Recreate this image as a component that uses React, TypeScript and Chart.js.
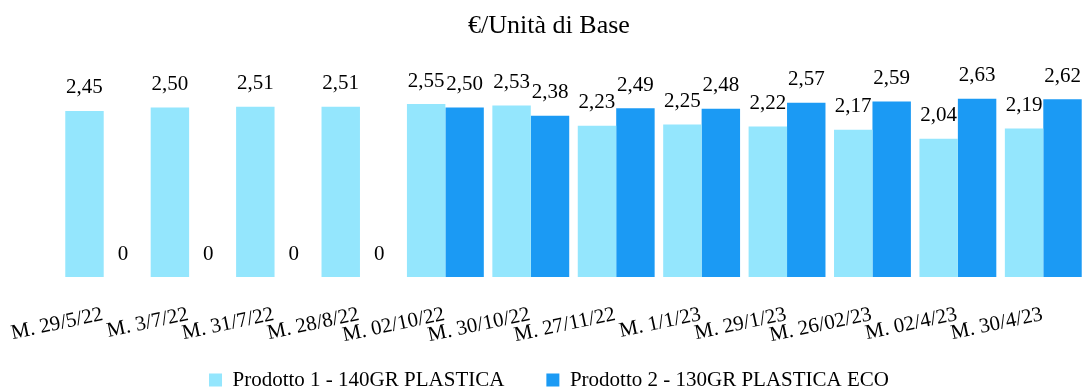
import React, { useEffect, useRef } from "react";
import { Chart, registerables } from "chart.js";

Chart.register(...registerables);

// Weekly reference dates
const categories = [
  "M. 29/5/22",
  "M. 3/7/22",
  "M. 31/7/22",
  "M. 28/8/22",
  "M. 02/10/22",
  "M. 30/10/22",
  "M. 27/11/22",
  "M. 1/1/23",
  "M. 29/1/23",
  "M. 26/02/23",
  "M. 02/4/23",
  "M. 30/4/23",
];

// Price per base unit (€)
const prodotto1 = [2.45, 2.5, 2.51, 2.51, 2.55, 2.53, 2.23, 2.25, 2.22, 2.17, 2.04, 2.19];
const prodotto2 = [0, 0, 0, 0, 2.5, 2.38, 2.49, 2.48, 2.57, 2.59, 2.63, 2.62];

const seriesNames = ["Prodotto 1 - 140GR PLASTICA", "Prodotto 2 - 130GR PLASTICA ECO"];
const seriesColors = ["#94E6FD", "#1B9AF4"];
const chartTitle = "€/Unità di Base";

const FONT = "'Liberation Serif', 'Times New Roman', serif";

const formatValue = (v: number) => (v === 0 ? "0" : v.toFixed(2).replace(".", ","));

// Draws each bar's value above it
const valueLabels = {
  id: "valueLabels",
  afterDatasetsDraw(chart: any) {
    const ctx = chart.ctx;
    ctx.save();
    ctx.font = `21px ${FONT}`;
    ctx.fillStyle = "#000";
    ctx.textAlign = "center";
    ctx.textBaseline = "alphabetic";
    chart.data.datasets.forEach((ds: any, i: number) => {
      const meta = chart.getDatasetMeta(i);
      meta.data.forEach((bar: any, j: number) => {
        ctx.fillText(formatValue(ds.data[j]), bar.x, bar.y - 17.5);
      });
    });
    ctx.restore();
  },
};

export default function App() {
  const canvasRef = useRef<HTMLCanvasElement | null>(null);

  useEffect(() => {
    if (!canvasRef.current) return;
    const chart = new Chart(canvasRef.current, {
      type: "bar",
      data: {
        labels: categories,
        datasets: [
          {
            label: seriesNames[0],
            data: prodotto1,
            backgroundColor: seriesColors[0],
            categoryPercentage: 0.9,
            barPercentage: 1,
          },
          {
            label: seriesNames[1],
            data: prodotto2,
            backgroundColor: seriesColors[1],
            categoryPercentage: 0.9,
            barPercentage: 1,
          },
        ],
      },
      options: {
        responsive: true,
        maintainAspectRatio: false,
        animation: false,
        layout: { padding: { left: 12, right: 1, top: 0, bottom: -11.5 } },
        plugins: {
          title: {
            display: true,
            text: chartTitle,
            color: "#000",
            font: { family: FONT, size: 26, weight: "normal" },
            padding: { top: 11, bottom: 8 },
          },
          legend: {
            position: "bottom",
            labels: {
              color: "#000",
              font: { family: FONT, size: 21 },
              boxWidth: 13,
              boxHeight: 13,
              padding: 42,
            },
          },
          tooltip: { enabled: false },
        },
        scales: {
          x: {
            grid: { display: false },
            border: { display: false },
            ticks: {
              color: "#000",
              font: { family: FONT, size: 21 },
              minRotation: 12,
              maxRotation: 12,
              padding: 17,
              labelOffset: -1,
              autoSkip: false,
            },
            afterFit: (s: any) => {
              // fixed band for the slanted date labels; the plot spans the full width
              s.height = 50.5;
              s.paddingLeft = 0;
              s.paddingRight = 0;
              // let the slanted labels run past the band instead of being cut
              s._computeLabelArea = () => undefined;
            },
          },
          y: {
            min: 0,
            max: 3.345,
            ticks: { display: false },
            grid: { display: false },
            border: { display: false },
            afterFit: (s: any) => {
              s.width = 49;
            },
          },
        },
      },
      plugins: [valueLabels],
    });
    return () => chart.destroy();
  }, []);

  return (
    <div style={{ position: "fixed", left: 0, top: 0, width: 1087, height: 389 }}>
      <canvas ref={canvasRef} />
    </div>
  );
}
